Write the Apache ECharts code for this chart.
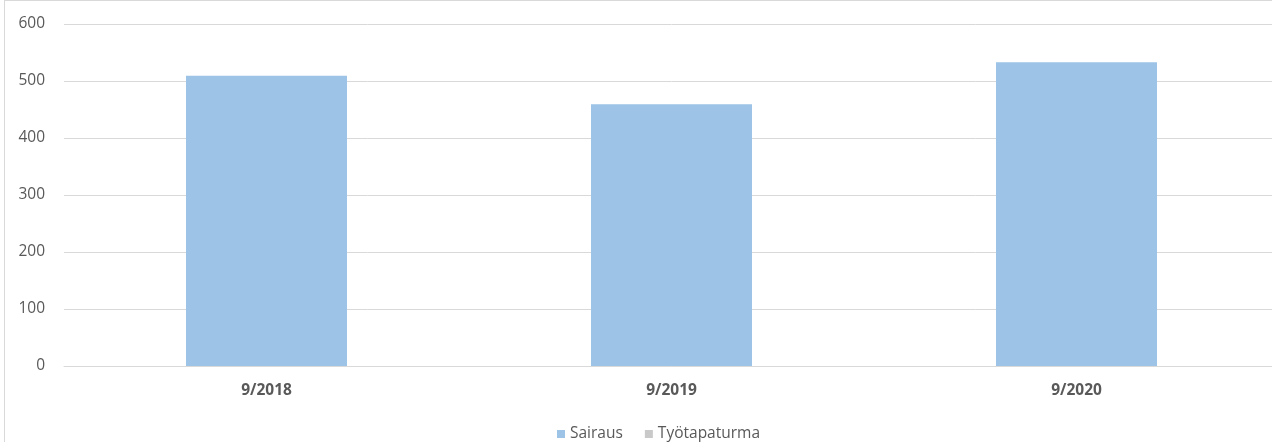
<!DOCTYPE html>
<html>
<head>
<meta charset="utf-8">
<script src="https://cdn.jsdelivr.net/npm/echarts@6/dist/echarts.min.js"></script>
<style>
  html, body { margin: 0; padding: 0; overflow: hidden; background: #fff; }
  #chart {
    position: absolute; left: 4px; top: 0;
    width: 1306px; height: 441px;
    border-left: 1px solid #d9d9d9; border-top: 1px solid #d9d9d9;
  }
</style>
</head>
<body>
<div id="chart"></div>
<script>
const categories = ['9/2018', '9/2019', '9/2020']
const sairaus = [509, 459, 533]
const tyotapaturma = [0, 0, 0]

const font = '"Open Sans", "Noto Sans", sans-serif'
const chart = echarts.init(document.getElementById('chart'))

chart.setOption({
  animation: false,
  textStyle: { fontFamily: font },
  grid: { left: 59, right: 32, top: 23, bottom: 76 },
  legend: {
    left: 547,
    top: 420,
    itemWidth: 8,
    itemHeight: 8,
    itemGap: 22,
    icon: 'rect',
    textStyle: { color: '#595959', fontSize: 15.5, fontFamily: font },
    data: ['Sairaus', 'Työtapaturma']
  },
  xAxis: {
    type: 'category',
    data: categories,
    axisLine: { lineStyle: { color: '#d9d9d9' } },
    axisTick: { show: false },
    axisLabel: { color: '#595959', fontSize: 15.5, fontWeight: 'bold', margin: 17, fontFamily: font }
  },
  yAxis: {
    type: 'value',
    min: 0,
    max: 600,
    interval: 100,
    axisLine: { show: false },
    axisTick: { show: false },
    splitLine: { lineStyle: { color: '#d9d9d9' } },
    axisLabel: { color: '#595959', fontSize: 15.5, margin: 19, fontFamily: font }
  },
  series: [
    {
      name: 'Sairaus',
      type: 'bar',
      stack: 'total',
      barWidth: 161,
      data: sairaus,
      itemStyle: { color: '#9dc3e6' }
    },
    {
      name: 'Työtapaturma',
      type: 'bar',
      stack: 'total',
      barWidth: 161,
      data: tyotapaturma,
      itemStyle: { color: '#c9c9c9' }
    }
  ]
})
</script>
</body>
</html>
